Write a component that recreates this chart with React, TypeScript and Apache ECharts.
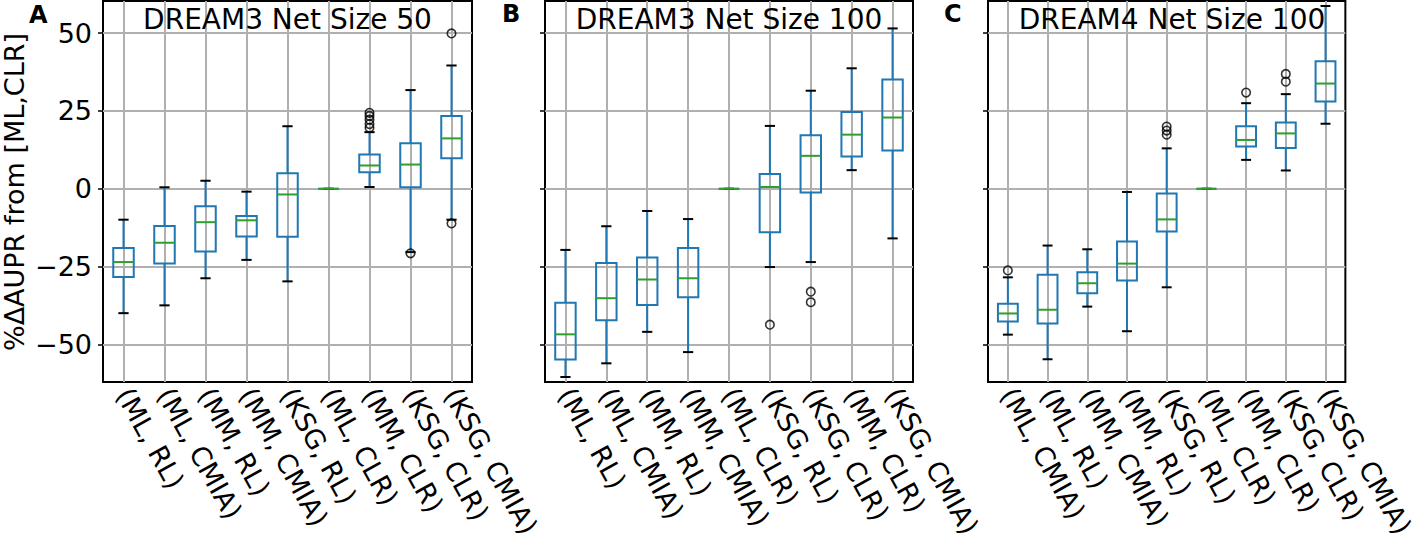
import React, { useEffect, useRef } from "react";
import * as echarts from "echarts";

// ---------------- data ----------------
const catsA = ["(ML, RL)", "(ML, CMIA)", "(MM, RL)", "(MM, CMIA)", "(KSG, RL)", "(ML, CLR)", "(MM, CLR)", "(KSG, CLR)", "(KSG, CMIA)"];
const catsB = ["(ML, RL)", "(ML, CMIA)", "(MM, RL)", "(MM, CMIA)", "(ML, CLR)", "(KSG, RL)", "(KSG, CLR)", "(MM, CLR)", "(KSG, CMIA)"];
const catsC = ["(ML, CMIA)", "(ML, RL)", "(MM, CMIA)", "(MM, RL)", "(KSG, RL)", "(ML, CLR)", "(MM, CLR)", "(KSG, CLR)", "(KSG, CMIA)"];

// [lower whisker, Q1, median, Q3, upper whisker]
const boxesA = [
  [-39.9, -28.3, -23.5, -19.0, -9.9],
  [-37.4, -24.0, -17.3, -11.9, 0.5],
  [-28.7, -20.1, -10.7, -5.6, 2.6],
  [-22.8, -15.3, -10.1, -8.7, -0.9],
  [-29.7, -15.4, -1.8, 5.0, 20.1],
  [0, 0, 0, 0, 0],
  [0.6, 5.3, 7.5, 11.0, 18.2],
  [-20.3, 0.5, 7.8, 14.6, 31.7],
  [-9.9, 9.8, 16.2, 23.4, 39.6],
];
const boxesB = [
  [-60.4, -54.8, -46.7, -36.6, -19.6],
  [-56.0, -42.2, -35.1, -23.8, -12.0],
  [-45.9, -37.3, -29.1, -22.0, -7.1],
  [-52.4, -34.8, -28.7, -19.0, -9.7],
  [0, 0, 0, 0, 0],
  [-25.1, -13.9, 0.6, 4.8, 20.2],
  [-23.5, -1.2, 10.6, 17.2, 31.5],
  [6.0, 10.4, 17.4, 24.7, 38.7],
  [-15.9, 12.3, 22.9, 35.1, 51.5],
];
const boxesC = [
  [-46.8, -42.6, -40.0, -36.9, -28.4],
  [-54.7, -43.2, -38.8, -27.6, -18.2],
  [-37.8, -33.5, -30.3, -26.8, -19.4],
  [-45.7, -29.4, -24.0, -16.9, -1.0],
  [-31.6, -13.7, -9.8, -1.5, 13.0],
  [0, 0, 0, 0, 0],
  [9.3, 13.6, 15.7, 20.1, 27.5],
  [5.9, 13.1, 17.8, 21.3, 30.4],
  [20.9, 28.0, 33.8, 41.0, 58.7],
];

// outliers: [category index, value]
const fliersA = [[6, 19.6], [6, 20.8], [6, 22.2], [6, 23.4], [6, 24.4], [7, -20.7], [8, 49.9], [8, -11.1]];
const fliersB = [[5, -43.6], [6, -33.0], [6, -36.4]];
const fliersC = [[0, -26.2], [4, 20.0], [4, 18.7], [4, 17.4], [6, 30.9], [7, 36.9], [7, 34.4]];

const yTicks = [-50, -25, 0, 25, 50];
const titles = ["DREAM3 Net Size 50", "DREAM3 Net Size 100", "DREAM4 Net Size 100"];
const letters = ["A", "B", "C"];
const yName = "%ΔAUPR from [ML,CLR]";

// ---------------- layout / style ----------------
const FONT = "DejaVu Sans";
const grids = [
  { left: 103, top: 1, width: 369, height: 381 },
  { left: 545, top: 1, width: 368, height: 381 },
  { left: 988, top: 1, width: 368, height: 381 },
];
const BLUE = "#1f77b4";
const GREEN = "#2ca02c";
const GRIDC = "#b0b0b0";

function renderBox(params: any, api: any) {
  const i = api.value(0);
  const lo = api.coord([i, api.value(1)]);
  const q1 = api.coord([i, api.value(2)]);
  const med = api.coord([i, api.value(3)]);
  const q3 = api.coord([i, api.value(4)]);
  const hi = api.coord([i, api.value(5)]);
  const bw = api.size([1, 0])[0];
  const x = lo[0];
  const half = bw * 0.25;
  const cap = bw * 0.125;
  const blue = { stroke: BLUE, lineWidth: 2, fill: null };
  return {
    type: "group",
    children: [
      { type: "line", shape: { x1: x, y1: q1[1], x2: x, y2: lo[1] }, style: blue },
      { type: "line", shape: { x1: x, y1: q3[1], x2: x, y2: hi[1] }, style: blue },
      { type: "rect", shape: { x: x - half, y: q3[1], width: half * 2, height: q1[1] - q3[1] }, style: { stroke: BLUE, lineWidth: 2, fill: "none" } },
      { type: "line", shape: { x1: x - cap, y1: lo[1], x2: x + cap, y2: lo[1] }, style: { stroke: "#000", lineWidth: 2 } },
      { type: "line", shape: { x1: x - cap, y1: hi[1], x2: x + cap, y2: hi[1] }, style: { stroke: "#000", lineWidth: 2 } },
      { type: "line", shape: { x1: x - half, y1: med[1], x2: x + half, y2: med[1] }, style: { stroke: GREEN, lineWidth: 2 } },
    ],
  };
}

export default function App() {
  const ref = useRef<HTMLDivElement>(null);
  useEffect(() => {
    if (!ref.current) return;
    const chart = echarts.init(ref.current, undefined, { renderer: "svg" });
    const cats = [catsA, catsB, catsC];
    const boxes = [boxesA, boxesB, boxesC];
    const fliers = [fliersA, fliersB, fliersC];

    const xAxis = cats.map((c, k) => ({
      type: "category",
      gridIndex: k,
      data: c,
      boundaryGap: true,
      axisLine: { show: false },
      axisTick: { show: true, alignWithLabel: true, length: 5, lineStyle: { color: "#000", width: 1.5 } },
      axisLabel: {
        interval: 0,
        rotate: -61,
        margin: 8,
        color: "#000",
        fontFamily: FONT,
        fontSize: 27,
      },
      splitLine: { show: false },
    }));
    const yAxis = [0, 1, 2].map((k) => ({
      type: "value",
      gridIndex: k,
      min: -62,
      max: 60.3,
      axisLine: { show: false },
      axisTick: { show: true, length: 5, customValues: yTicks, lineStyle: { color: "#000", width: 1.5 } },
      axisLabel: {
        show: k === 0,
        customValues: yTicks,
        margin: 11,
        color: "#000",
        fontFamily: FONT,
        fontSize: 27,
        formatter: (v: number) => (v < 0 ? "\u2212" + Math.abs(v) : String(v)),
      },
      splitLine: { show: false },
    }));

    const series: any[] = [];
    for (let k = 0; k < 3; k++) {
      series.push({
        type: "custom",
        xAxisIndex: k,
        yAxisIndex: k,
        z: 5,
        renderItem: renderBox,
        encode: { x: 0, y: [1, 2, 3, 4, 5] },
        data: boxes[k].map((b, i) => [i, ...b]),
        markLine: {
          silent: true,
          z: 1,
          symbol: ["none", "none"],
          label: { show: false },
          lineStyle: { color: GRIDC, width: 2, type: "solid" },
          emphasis: { disabled: true },
          data: [
            ...yTicks.map((v) => ({ yAxis: v })),
            ...cats[k].map((_, i) => ({ xAxis: i })),
          ],
        },
      });
      series.push({
        type: "scatter",
        xAxisIndex: k,
        yAxisIndex: k,
        z: 6,
        symbol: "circle",
        symbolSize: 8.5,
        itemStyle: { color: "none", borderColor: "#000", borderWidth: 1.6 },
        data: fliers[k],
      });
    }

    const graphic: any[] = [];
    for (let k = 0; k < 3; k++) {
      const g = grids[k];
      graphic.push({
        type: "text",
        x: g.left + g.width / 2,
        y: 19.5,
        z: 20,
        style: { text: titles[k], fontFamily: FONT, fontSize: 28, fill: "#000", align: "center", verticalAlign: "middle" },
      });
    }
    const letterPos = [[29, 15], [502, 13.5], [944, 14]];
    letters.forEach((l, k) => {
      graphic.push({
        type: "text",
        x: letterPos[k][0],
        y: letterPos[k][1],
        z: 20,
        style: { text: l, fontFamily: FONT, fontWeight: "bold", fontSize: 24, fill: "#000", align: "left", verticalAlign: "middle" },
      });
    });
    graphic.push({
      type: "text",
      x: 14,
      y: 192,
      rotation: Math.PI / 2,
      z: 20,
      style: { text: yName, fontFamily: FONT, fontSize: 27, fill: "#000", align: "center", verticalAlign: "middle" },
    });

    chart.setOption({
      animation: false,
      backgroundColor: "#fff",
      textStyle: { fontFamily: FONT },
      grid: grids.map((g) => ({ ...g, show: true, borderColor: "#000", borderWidth: 2, backgroundColor: "transparent", containLabel: false })),
      xAxis,
      yAxis,
      series,
      graphic,
    });
    return () => chart.dispose();
  }, []);
  return <div ref={ref} style={{ position: "fixed", left: 0, top: 0, width: 1417, height: 546 }} />;
}
